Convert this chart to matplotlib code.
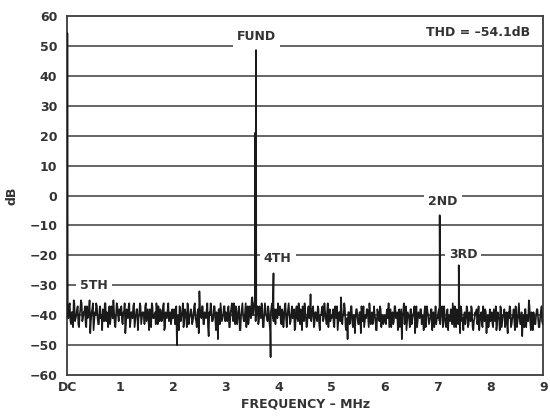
import matplotlib.pyplot as plt
import numpy as np

# noise floor, one value every 0.025 MHz (one row per MHz)
noise_start = 0.0
noise_step = 0.025
noise_db = [
    -38, -41, -36, -43, -39, -35, -42, -40, -37, -44, -38, -36, -41, -39, -43, -37, -40, -35, -42, -38,
    -45, -39, -36, -41, -43, -37, -40, -38, -42, -36, -39, -44, -37, -41, -38, -35, -43, -40, -37, -42,
    -40, -37, -43, -39, -46, -38, -41, -36, -42, -39, -37, -44, -40, -38, -41, -36, -43, -39, -40, -37,
    -42, -38, -45, -39, -36, -41, -40, -43, -38, -37, -42, -39, -41, -36, -44, -40, -38, -42, -39, -41,
    -41, -38, -43, -50, -40, -37, -42, -39, -44, -38, -41, -36, -43, -40, -39, -42, -37, -41, -44, -38,
    -32, -40, -37, -43, -39, -41, -36, -47, -40, -38, -42, -37, -41, -39, -48, -38, -36, -42, -40, -37,
    -39, -42, -37, -44, -38, -40, -36, -43, -39, -41, -37, -45, -38, -40, -42, -36, -39, -43, -37, -41,
    -34, -38, -35, -40, -37, -42, -39, -36, -44, -40, -38, -41, -37, -43, -39, -36, -42, -40, -38, -41,
    -40, -37, -43, -39, -41, -36, -44, -38, -40, -42, -37, -39, -45, -38, -41, -36, -43, -40, -37, -42,
    -39, -44, -38, -41, -33, -40, -37, -43, -39, -42, -38, -45, -40, -37, -41, -39, -43, -36, -40, -42,
    -41, -38, -44, -40, -37, -42, -39, -34, -43, -40, -38, -45, -48, -39, -42, -37, -44, -40, -41, -38,
    -43, -39, -46, -40, -37, -42, -41, -38, -44, -39, -40, -43, -37, -41, -45, -39, -42, -38, -40, -43,
    -40, -43, -38, -36, -41, -44, -39, -42, -37, -40, -45, -38, -41, -48, -39, -43, -37, -42, -40, -44,
    -38, -41, -39, -46, -37, -42, -40, -38, -43, -41, -39, -44, -37, -40, -42, -38, -45, -39, -41, -43,
    -41, -38, -43, -40, -44, -37, -42, -39, -45, -41, -38, -43, -40, -37, -44, -39, -42, -46, -38, -41,
    -40, -43, -37, -44, -39, -42, -38, -45, -41, -40, -43, -37, -42, -39, -44, -41, -38, -46, -40, -42,
    -42, -39, -44, -40, -37, -43, -41, -45, -38, -42, -40, -44, -39, -46, -41, -38, -43, -40, -42, -37,
    -44, -39, -41, -43, -47, -40, -38, -44, -41, -35, -42, -39, -45, -40, -43, -38, -41, -44, -39, -42,
]

# the in-between bins, offset by half a step
noise_b_start = 0.0125
noise_b_db = [
    -40, -37, -42, -39, -44, -36, -41, -38, -43, -40, -35, -42, -39, -37, -44, -41, -38, -46, -39, -36,
    -42, -40, -37, -43, -38, -41, -45, -39, -36, -42, -40, -38, -43, -37, -41, -39, -44, -36, -40, -38,
    -38, -42, -39, -36, -43, -40, -37, -44, -39, -41, -36, -42, -38, -45, -40, -37, -41, -39, -43, -36,
    -40, -42, -38, -44, -37, -41, -39, -36, -43, -40, -38, -42, -37, -45, -39, -41, -36, -40, -43, -38,
    -39, -43, -37, -41, -45, -38, -40, -36, -42, -39, -44, -37, -41, -38, -43, -40, -36, -42, -39, -46,
    -38, -41, -37, -43, -40, -38, -44, -39, -36, -42, -41, -37, -45, -40, -38, -43, -39, -41, -37, -42,
    -41, -38, -44, -39, -36, -42, -40, -37, -43, -38, -45, -40, -36, -42, -39, -44, -37, -41, -38, -35,
    -40, -36, -42, -39, -43, -37, -41, -38, -44, -36, -40, -42, -39, -45, -37, -41, -38, -43, -40, -36,
    -39, -42, -38, -44, -37, -41, -40, -36, -43, -39, -41, -38, -44, -37, -42, -40, -38, -45, -39, -36,
    -41, -43, -37, -40, -42, -38, -44, -39, -41, -37, -43, -40, -38, -42, -36, -41, -39, -44, -38, -40,
    -40, -43, -37, -41, -45, -39, -42, -38, -40, -36, -44, -41, -39, -43, -37, -42, -40, -46, -38, -41,
    -43, -39, -37, -42, -44, -40, -38, -41, -36, -43, -39, -42, -40, -45, -38, -41, -37, -44, -40, -42,
    -42, -39, -41, -44, -38, -40, -43, -37, -41, -39, -42, -44, -38, -40, -36, -42, -45, -39, -41, -38,
    -43, -40, -37, -42, -44, -39, -41, -38, -40, -45, -37, -42, -39, -43, -41, -38, -40, -44, -37, -41,
    -39, -42, -40, -37, -43, -41, -44, -38, -40, -42, -39, -36, -44, -41, -38, -43, -40, -37, -42, -45,
    -39, -41, -38, -43, -40, -37, -44, -42, -39, -38, -41, -45, -40, -43, -37, -42, -39, -41, -44, -38,
    -40, -43, -38, -42, -45, -39, -41, -37, -44, -40, -38, -42, -43, -39, -37, -44, -41, -38, -45, -40,
    -42, -36, -43, -39, -41, -44, -38, -40, -42, -37, -45, -41, -39, -43, -40, -38, -44, -41, -37, -43,
]

# tones (DC, fundamental, harmonics) in MHz / dB
tone_freq = [0.005, 3.555, 3.57, 3.845, 3.9, 7.04, 7.40]
tone_db = [54.3, 21.0, 48.6, -54.0, -26.0, -6.6, -23.3]

# annotations
label_text = ['FUND', '2ND', '3RD', '4TH', '5TH']
label_freq = [3.58, 7.10, 7.48, 3.98, 0.50]
label_db = [53.0, -2.0, -19.8, -21.0, -30.0]

x_ticks = list(range(10))
x_ticklabels = ['DC', '1', '2', '3', '4', '5', '6', '7', '8', '9']
y_ticks = list(range(-60, 61, 10))

noise_freq = noise_start + noise_step * np.arange(len(noise_db))
noise_b_freq = noise_b_start + noise_step * np.arange(len(noise_b_db))
freq = np.concatenate([noise_freq, noise_b_freq, tone_freq])
db = np.concatenate([noise_db, noise_b_db, tone_db])
order = np.argsort(freq, kind='stable')

plt.rcParams['font.family'] = 'DejaVu Sans'
plt.rcParams['font.weight'] = 'bold'
plt.rcParams['axes.labelweight'] = 'bold'
plt.rcParams['font.size'] = 9
txt = '#333333'

fig = plt.figure(figsize=(5.5, 4.2), dpi=100)
ax = fig.add_axes([0.122, 0.107, 0.866, 0.855])

for y in y_ticks[1:-1]:
    ax.axhline(y, color='#3c3c3c', lw=1.1, zorder=1)

ax.plot(freq[order], db[order], color='#1a1a1a', lw=1.2, zorder=3)

for t, fx, fy in zip(label_text, label_freq, label_db):
    ax.text(fx, fy, t, ha='center', va='center', color=txt, zorder=2,
            bbox=dict(facecolor='white', edgecolor='none', pad=3))
ax.text(8.75, 54.6, 'THD = \u201354.1dB', ha='right', va='center', color=txt, zorder=2,
        bbox=dict(facecolor='white', edgecolor='none', pad=2))

ax.set_xlim(0, 9)
ax.set_ylim(-60, 60)
ax.set_xticks(x_ticks)
ax.set_xticklabels(x_ticklabels)
ax.set_yticks(y_ticks)
ax.tick_params(length=0, colors=txt, labelsize=9)
ax.tick_params(axis='y', pad=7)
ax.tick_params(axis='x', pad=4)
for s in ax.spines.values():
    s.set_color('#3c3c3c')
    s.set_linewidth(1.3)

ax.set_xlabel('FREQUENCY \u2013 MHz', color=txt, labelpad=3)
ax.set_ylabel('dB', color=txt, labelpad=8)

fig.savefig('out.png', dpi=100)
